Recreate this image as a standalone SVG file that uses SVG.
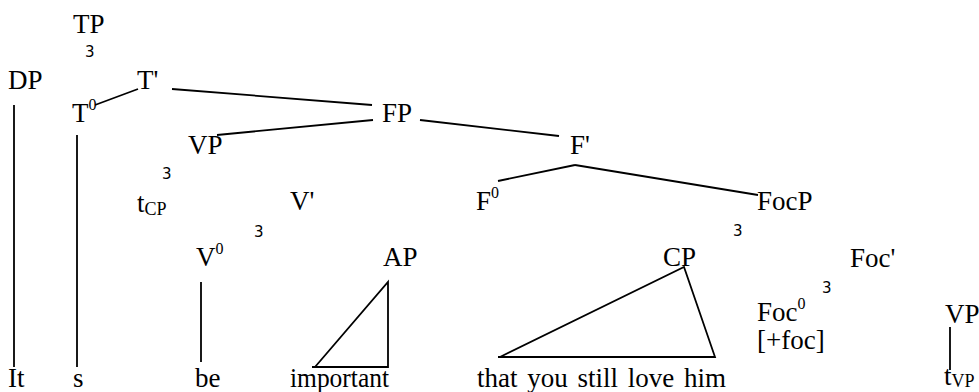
<svg xmlns="http://www.w3.org/2000/svg" width="979" height="392" viewBox="0 0 979 392">
<style>
.t{font-size:27px;fill:#000}
.s{font-size:16px}
.b{font-size:18px}
.n{font-size:15px;fill:#000}
line,polyline{stroke:#000;stroke-width:1.8;fill:none}
</style>
<rect width="979" height="392" fill="#fff"/>
<g id="connectors">
<line x1="95" y1="105" x2="138" y2="89"/>
<line x1="172" y1="89" x2="372" y2="105"/>
<line x1="373" y1="120" x2="217" y2="135"/>
<line x1="420" y1="120" x2="559" y2="136"/>
<line x1="575" y1="165" x2="498" y2="181"/>
<line x1="575" y1="165" x2="758" y2="195"/>
<line x1="14" y1="105" x2="14" y2="367"/>
<line x1="77" y1="135" x2="77" y2="367"/>
<line x1="201" y1="282" x2="201" y2="362"/>
<polyline points="312,367 388,367 388,282 315,367"/>
<polyline points="498,357 715,357 684,267 500,357"/>
<line x1="950" y1="327" x2="950" y2="370"/>
</g>
<g font-family="Liberation Serif, Times New Roman, serif">
<g id="TP"><text class="t" x="73" y="33">TP</text><text class="n" font-family="DejaVu Sans, sans-serif" x="85" y="57">3</text></g>
<g id="DP"><text class="t" x="8" y="89">DP</text></g>
<g id="Tbar"><text class="t" x="137" y="89">T'</text></g>
<g id="T0"><text class="t" x="72" y="122">T<tspan class="s" dy="-12">0</tspan></text></g>
<g id="FP"><text class="t" x="382" y="122">FP</text></g>
<g id="VP"><text class="t" x="188" y="154">VP</text><text class="n" font-family="DejaVu Sans, sans-serif" x="162" y="179">3</text></g>
<g id="Fbar"><text class="t" x="570" y="154">F'</text></g>
<g id="tCP"><text class="t" x="137" y="212">t<tspan class="b" dy="3">CP</tspan></text></g>
<g id="Vbar"><text class="t" x="290" y="210">V'</text><text class="n" font-family="DejaVu Sans, sans-serif" x="254" y="237">3</text></g>
<g id="F0"><text class="t" x="476" y="210">F<tspan class="s" dy="-12">0</tspan></text></g>
<g id="FocP"><text class="t" x="757" y="210">FocP</text><text class="n" font-family="DejaVu Sans, sans-serif" x="733" y="236">3</text></g>
<g id="V0"><text class="t" x="196" y="266">V<tspan class="s" dy="-12">0</tspan></text></g>
<g id="AP"><text class="t" x="383" y="266">AP</text></g>
<g id="CP"><text class="t" x="663" y="266">CP</text></g>
<g id="Focbar"><text class="t" x="850" y="267">Foc'</text><text class="n" font-family="DejaVu Sans, sans-serif" x="822" y="293">3</text></g>
<g id="Foc0"><text class="t" x="757" y="321">Foc<tspan class="s" dy="-12">0</tspan></text><text class="t" x="757" y="349">[+foc]</text></g>
<g id="VP2"><text class="t" x="945" y="323">VP</text></g>
<g id="words">
<text class="t" x="8" y="387">It</text>
<text class="t" x="73" y="387">s</text>
<text class="t" x="195" y="387">be</text>
<text class="t" x="290" y="387" textLength="99" lengthAdjust="spacingAndGlyphs">important</text>
<text class="t" x="477" y="387" word-spacing="3">that you still love him</text>
<text class="t" x="944" y="385">t<tspan class="b" dy="2">VP</tspan></text>
</g>
</g>
</svg>
